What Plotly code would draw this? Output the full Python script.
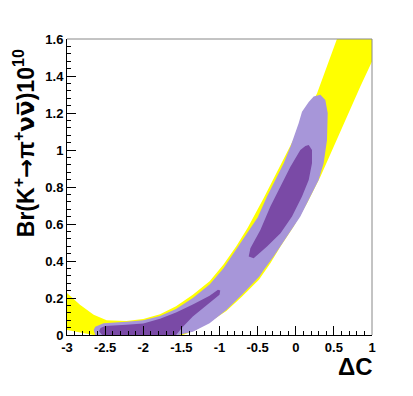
import plotly.graph_objects as go

# yellow band: upper edge left->right, lower edge right->left
band_up_x = [-3.0, -2.83, -2.65, -2.48, -2.22, -2.0, -1.78, -1.57, -1.35, -1.13, -0.95, -0.78, -0.63, -0.42, 0.28, 0.41, 0.54, 1.0]
band_up_y = [0.227, 0.164, 0.109, 0.08, 0.076, 0.086, 0.112, 0.155, 0.218, 0.29, 0.38, 0.48, 0.58, 0.74, 1.307, 1.45, 1.6, 1.6]
band_lo_x = [1.0, 0.847, 0.672, 0.497, 0.323, 0.148, -0.027, -0.2, -0.333, -0.48, -0.70, -0.91, -1.13, -1.35, -1.48, -2.65, -2.83, -3.0]
band_lo_y = [1.478, 1.343, 1.18, 1.018, 0.856, 0.712, 0.586, 0.478, 0.388, 0.30, 0.21, 0.13, 0.07, 0.02, 0.0, 0.0, 0.013, 0.027]

# light purple region (outer contour)
outer_x = [-2.63, -2.65, -2.63, -2.52, -2.22, -2.0, -1.78, -1.57, -1.35, -1.13, -0.95, -0.80, -0.64, -0.50, -0.377,
           -0.268, -0.158, -0.07, -0.005, 0.038, 0.082, 0.17, 0.235, 0.323, 0.388, 0.419, 0.41, 0.366, 0.3, 0.191,
           0.06, -0.115, -0.29, -0.42, -0.48, -0.70, -0.91, -1.13, -1.35, -1.54]
outer_y = [0.0, 0.027, 0.045, 0.064, 0.072, 0.08, 0.103, 0.14, 0.2, 0.273, 0.36, 0.45, 0.545, 0.635, 0.748,
           0.838, 0.928, 1.018, 1.09, 1.145, 1.207, 1.26, 1.289, 1.298, 1.27, 1.2, 1.054, 0.928, 0.838, 0.748,
           0.64, 0.532, 0.424, 0.352, 0.315, 0.22, 0.135, 0.064, 0.018, 0.0]

# dark purple regions (inner contours)
inner1_x = [-2.54, -2.58, -2.56, -2.50, -2.22, -2.0, -1.78, -1.57, -1.35, -1.13, -1.02, -0.99, -1.0, -1.13, -1.35, -1.48, -1.57]
inner1_y = [0.0, 0.02, 0.038, 0.048, 0.055, 0.062, 0.088, 0.122, 0.165, 0.212, 0.245, 0.24, 0.218, 0.173, 0.1, 0.045, 0.0]
inner2_x = [0.17, 0.213, 0.213, 0.17, 0.082, -0.049, -0.2, -0.377, -0.552, -0.617, -0.595, -0.464, -0.333, -0.2, -0.07, 0.06, 0.126]
inner2_y = [1.027, 1.0, 0.928, 0.838, 0.748, 0.64, 0.55, 0.478, 0.415, 0.424, 0.469, 0.568, 0.694, 0.802, 0.91, 1.0, 1.022]

x_ticks = [-3, -2.5, -2, -1.5, -1, -0.5, 0, 0.5, 1]
x_tick_text = ["-3", "-2.5", "-2", "-1.5", "-1", "-0.5", "0", "0.5", "1"]
y_ticks = [0, 0.2, 0.4, 0.6, 0.8, 1.0, 1.2, 1.4, 1.6]
y_tick_text = ["0", "0.2", "0.4", "0.6", "0.8", "1", "1.2", "1.4", "1.6"]

YELLOW = "#ffff00"
LIGHT = "#a796d9"
DARK = "#7a4aa6"

fig = go.Figure()
fig.add_trace(go.Scatter(x=band_up_x + band_lo_x, y=band_up_y + band_lo_y, fill="toself", fillcolor=YELLOW,
                         mode="lines", line=dict(width=0), hoverinfo="skip"))
fig.add_trace(go.Scatter(x=outer_x, y=outer_y, fill="toself", fillcolor=LIGHT,
                         mode="lines", line=dict(width=0), hoverinfo="skip"))
for xs, ys in [(inner1_x, inner1_y), (inner2_x, inner2_y)]:
    fig.add_trace(go.Scatter(x=xs, y=ys, fill="toself", fillcolor=DARK,
                             mode="lines", line=dict(width=0), hoverinfo="skip"))

tick_font = dict(family="Liberation Sans", size=13, color="black", weight="bold")
fig.update_xaxes(range=[-3, 1], tickvals=x_ticks, ticktext=x_tick_text, ticks="inside", ticklen=9,
                 tickcolor="black", showline=True, linecolor="black", linewidth=1, showgrid=False,
                 zeroline=False, tickfont=tick_font,
                 minor=dict(tick0=-3, dtick=0.1, ticks="inside", ticklen=4, tickcolor="black"))
fig.update_yaxes(range=[0, 1.6], tickvals=y_ticks, ticktext=y_tick_text, ticks="inside", ticklen=9,
                 tickcolor="black", showline=True, linecolor="black", linewidth=1, showgrid=False,
                 zeroline=False, tickfont=tick_font,
                 minor=dict(tick0=0, dtick=0.04, ticks="inside", ticklen=4, tickcolor="black"))

# grey frame on top and right
fig.add_shape(type="line", xref="paper", yref="paper", x0=0, x1=1, y0=1, y1=1, line=dict(color="#888888", width=1))
fig.add_shape(type="line", xref="paper", yref="paper", x0=1, x1=1, y0=0, y1=1, line=dict(color="#888888", width=1))

ytitle = ("<b>Br(K<sup>+</sup><span style='font-family:DejaVu Sans'>→</span>π<sup>+</sup>"
          "<span style='font-family:DejaVu Sans'>νν\u0305</span>)10<sup>10</sup></b>")
fig.add_annotation(text=ytitle, xref="paper", yref="paper", x=-0.14, y=0.649, xanchor="center", yanchor="middle",
                   textangle=-90, showarrow=False, font=dict(family="Liberation Sans", size=23, color="black"))
fig.add_annotation(text="<b>ΔC</b>", xref="paper", yref="paper", x=0.945, y=-0.108, xanchor="center",
                   yanchor="middle", showarrow=False, font=dict(family="Liberation Sans", size=24, color="black"))

# the page body adds an 8px offset, so the figure is 8px smaller than the window
fig.update_layout(width=405, height=388, margin=dict(l=59, r=41, t=31, b=61),
                  plot_bgcolor="white", paper_bgcolor="white", showlegend=False)

fig.write_html("out.html")
